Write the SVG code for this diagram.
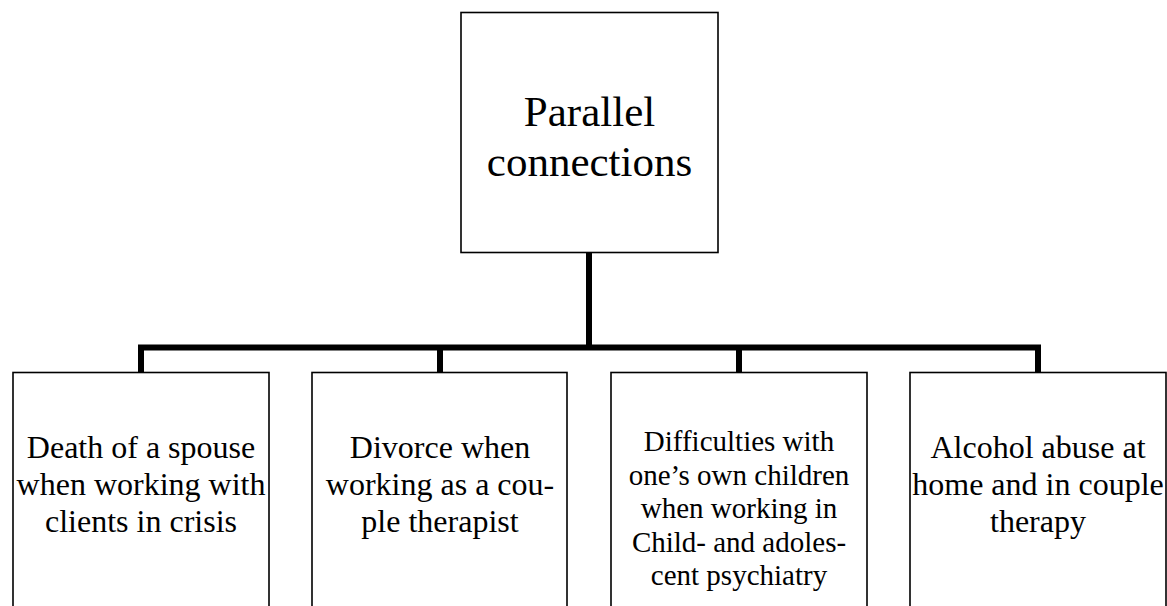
<svg xmlns="http://www.w3.org/2000/svg" width="1167" height="606" viewBox="0 0 1167 606">
<style>
.box{fill:#fff;stroke:#000;stroke-width:1.6}
.conn{stroke:#000;stroke-width:6;fill:none}
.t{font-family:"Liberation Serif","Times New Roman",serif;fill:#000;text-anchor:middle}
.big{font-size:43px}
.mid{font-size:32px}
.sm{font-size:29px}
</style>
<rect width="1167" height="606" fill="#fff"/>
<g id="connectors">
<line class="conn" x1="589" y1="253" x2="589" y2="350"/>
<line class="conn" x1="138" y1="347.5" x2="1041" y2="347.5"/>
<line class="conn" x1="141" y1="345" x2="141" y2="372"/>
<line class="conn" x1="440" y1="345" x2="440" y2="372"/>
<line class="conn" x1="739" y1="345" x2="739" y2="372"/>
<line class="conn" x1="1038" y1="345" x2="1038" y2="372"/>
</g>
<g id="root">
<rect class="box" x="461" y="12.5" width="257" height="240"/>
<text class="t big" x="589.5" y="126">Parallel</text>
<text class="t big" x="589.5" y="176">connections</text>
</g>
<g id="n1">
<rect class="box" x="13" y="372.5" width="256" height="250"/>
<text class="t mid" x="141" y="458">Death of a spouse</text>
<text class="t mid" x="141" y="495">when working with</text>
<text class="t mid" x="141" y="532">clients in crisis</text>
</g>
<g id="n2">
<rect class="box" x="312" y="372.5" width="255" height="250"/>
<text class="t mid" x="440" y="458">Divorce when</text>
<text class="t mid" x="440" y="495">working as a cou-</text>
<text class="t mid" x="440" y="532">ple therapist</text>
</g>
<g id="n3">
<rect class="box" x="611" y="372.5" width="256" height="250"/>
<text class="t sm" x="739" y="451">Difficulties with</text>
<text class="t sm" x="739" y="485">one’s own children</text>
<text class="t sm" x="739" y="518">when working in</text>
<text class="t sm" x="739" y="552">Child- and adoles-</text>
<text class="t sm" x="739" y="585">cent psychiatry</text>
</g>
<g id="n4">
<rect class="box" x="910" y="372.5" width="256" height="250"/>
<text class="t mid" x="1038" y="458">Alcohol abuse at</text>
<text class="t mid" x="1038" y="495">home and in couple</text>
<text class="t mid" x="1038" y="532">therapy</text>
</g>
</svg>
